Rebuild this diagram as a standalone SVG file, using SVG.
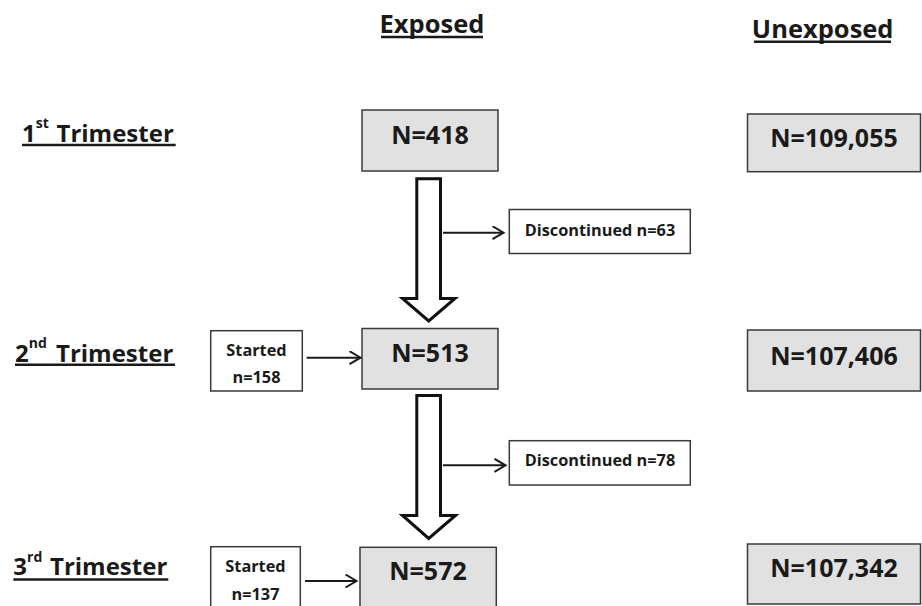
<svg xmlns="http://www.w3.org/2000/svg" width="922" height="606" viewBox="0 0 922 606">
<style>
text{font-family:"Open Sans","Liberation Sans",sans-serif;font-weight:bold;fill:#1a1a1a}
.gbox{fill:#e1e1e1;stroke:#3a3a3a;stroke-width:1.5}
.wbox{fill:#fff;stroke:#3a3a3a;stroke-width:1.5}
.big{font-size:25px;text-anchor:middle}
.unx{font-size:25px;text-anchor:middle}
.small{font-size:16.3px;text-anchor:middle}
.lbl{font-size:24px}
.sup{font-size:14px}
.hdr{font-size:25.5px;text-anchor:middle}
.ul{stroke:#1a1a1a;stroke-width:2.4}
.block{fill:#fff;stroke:#111;stroke-width:3;stroke-linejoin:miter}
.thin{stroke:#1a1a1a;stroke-width:2;fill:none}
</style>
<defs>
<marker id="ah" markerUnits="userSpaceOnUse" markerWidth="14" markerHeight="16" refX="12" refY="7" orient="auto" viewBox="0 0 14 16">
<path d="M1,0.5 L12,7 L1,13.5" fill="none" stroke="#1a1a1a" stroke-width="2"/>
</marker>
</defs>

<g id="header-exposed">
<text class="hdr" x="432" y="33">Exposed</text>
<line class="ul" x1="381" y1="37" x2="483" y2="37"/>
</g>
<g id="header-unexposed">
<text class="hdr" x="822.7" y="37.7">Unexposed</text>
<line class="ul" x1="754" y1="41.7" x2="891" y2="41.7"/>
</g>

<g id="label-t1">
<text class="lbl" x="22" y="141.7">1<tspan class="sup" dy="-13.5">st</tspan><tspan dy="13.5" x="56.5">Trimester</tspan></text>
<line class="ul" x1="22" y1="145" x2="175.7" y2="145"/>
</g>
<g id="label-t2">
<text class="lbl" x="15" y="361.7">2<tspan class="sup" dy="-13.5">nd</tspan><tspan dy="13.5" x="56">Trimester</tspan></text>
<line class="ul" x1="15" y1="364.8" x2="175" y2="364.8"/>
</g>
<g id="label-t3">
<text class="lbl" x="13.3" y="575">3<tspan class="sup" dy="-13.5">rd</tspan><tspan dy="13.5" x="50">Trimester</tspan></text>
<line class="ul" x1="13.3" y1="579.5" x2="168.3" y2="579.5"/>
</g>

<g id="exp1">
<rect class="gbox" x="362" y="110" width="136" height="61"/>
<text class="big" x="430" y="144">N=418</text>
</g>
<g id="exp2">
<rect class="gbox" x="362" y="328.5" width="136" height="60.5"/>
<text class="big" x="430" y="362.3">N=513</text>
</g>
<g id="exp3">
<rect class="gbox" x="360" y="547.3" width="136.3" height="70"/>
<text class="big" x="428" y="580">N=572</text>
</g>

<g id="unexp1">
<rect class="gbox" x="747.5" y="114" width="173" height="57.7"/>
<text class="unx" x="834" y="147">N=109,055</text>
</g>
<g id="unexp2">
<rect class="gbox" x="747.5" y="330" width="173" height="61"/>
<text class="unx" x="834" y="365">N=107,406</text>
</g>
<g id="unexp3">
<rect class="gbox" x="747.5" y="544" width="173" height="60"/>
<text class="unx" x="834" y="577">N=107,342</text>
</g>

<g id="disc1">
<rect class="wbox" x="509.3" y="209.5" width="181" height="44"/>
<text class="small" x="600" y="235.5">Discontinued n=63</text>
</g>
<g id="disc2">
<rect class="wbox" x="509.3" y="440.7" width="181" height="44.3"/>
<text class="small" x="600" y="466">Discontinued n=78</text>
</g>

<g id="start1">
<rect class="wbox" x="210.7" y="330.7" width="91.6" height="60.3"/>
<text class="small" x="256.5" y="355.7">Started</text>
<text class="small" x="256.5" y="382.7">n=158</text>
</g>
<g id="start2">
<rect class="wbox" x="210.7" y="546.7" width="89.6" height="70"/>
<text class="small" x="255.5" y="572.3">Started</text>
<text class="small" x="255.5" y="600">n=137</text>
</g>

<g id="connectors">
<path class="block" d="M416.8,178.8 H440.5 V298.5 H455 L428.7,321 L402.5,298.5 H416.8 Z"/>
<path class="block" d="M416.8,395.5 H440.5 V515.5 H455.5 L428.7,538.5 L402.5,515.5 H416.8 Z"/>
<line class="thin" x1="443" y1="232.7" x2="503.5" y2="232.7" marker-end="url(#ah)"/>
<line class="thin" x1="443" y1="465.3" x2="505.5" y2="465.3" marker-end="url(#ah)"/>
<line class="thin" x1="306.7" y1="357.7" x2="360.5" y2="357.7" marker-end="url(#ah)"/>
<line class="thin" x1="305" y1="581" x2="356.5" y2="581" marker-end="url(#ah)"/>
</g>
</svg>
